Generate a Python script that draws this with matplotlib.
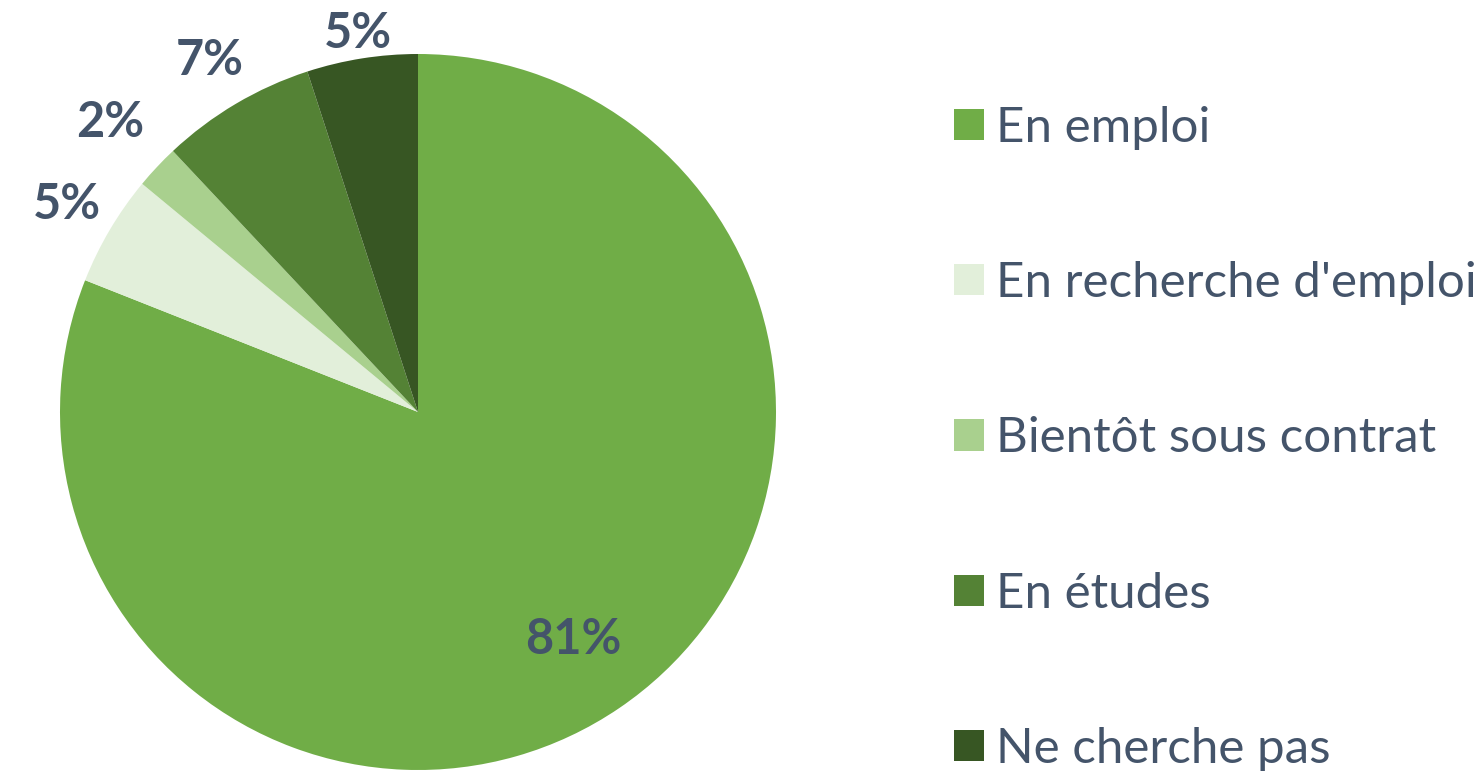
import numpy as np
import matplotlib
matplotlib.use("Agg")
import matplotlib.pyplot as plt

labels = ["En emploi", "En recherche d'emploi", "Bientôt sous contrat", "En études", "Ne cherche pas"]
values = [81, 5, 2, 7, 5]
colors = ["#70AD47", "#E2EFDA", "#A9D08E", "#548235", "#375623"]
# distance of each percentage label from the centre (radius units)
label_dist = [0.77, 1.14, 1.18, 1.14, 1.07]

plt.rcParams['font.family'] = ['Lato', 'DejaVu Sans']
text_color = "#44546A"

fig = plt.figure(figsize=(14.82, 7.72), dpi=100)
ax = fig.add_axes([60 / 1482, 2 / 772, 716 / 1482, 716 / 772])

wedges, _ = ax.pie(values, colors=colors, startangle=90, counterclock=False,
                   radius=1.0, wedgeprops=dict(linewidth=0))
ax.set_xlim(-1, 1)
ax.set_ylim(-1, 1)
ax.set_aspect("equal")
ax.axis("off")

for w, v, d in zip(wedges, values, label_dist):
    ang = np.deg2rad((w.theta1 + w.theta2) / 2)
    ax.text(d * np.cos(ang), d * np.sin(ang), f"{v}%", ha="center", va="center",
            fontsize=35, fontweight="bold", color=text_color, clip_on=False)

fig.legend(wedges, labels, loc="upper left", bbox_to_anchor=(954 / 1482, 1 - 106 / 772),
           frameon=False, fontsize=35.5, labelcolor=text_color,
           handlelength=0.6, handleheight=0.6, handletextpad=0.25, labelspacing=2.255,
           borderpad=0, borderaxespad=0)

fig.savefig("out.png", dpi=100)
